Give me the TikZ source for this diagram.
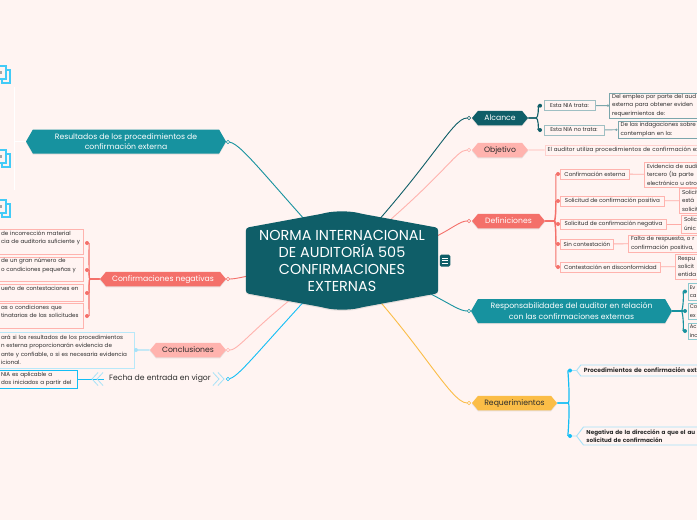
\documentclass[tikz,border=0pt]{standalone}
\usepackage{fontspec}
\setmainfont{Poppins}
\usetikzlibrary{shapes.symbols,shadows,arrows.meta}
\definecolor{paper}{HTML}{FFF4F2}
\definecolor{petrol}{HTML}{0F5E68}
\definecolor{teal}{HTML}{17929F}
\definecolor{coral}{HTML}{F4706A}
\definecolor{blush}{HTML}{FFB3AE}
\definecolor{amber}{HTML}{FBBD47}
\definecolor{sky}{HTML}{14BEF5}
\definecolor{pale}{HTML}{A6E2F8}
\definecolor{ink}{HTML}{2C2C2C}
\pgfdeclarelayer{wires}
\pgfdeclarelayer{hull}
\pgfsetlayers{wires,hull,main}
\tikzset{
  softshadow/.style={drop shadow={opacity=.18,shadow xshift=0pt,shadow yshift=-1.2pt}},
  hexbox/.style={signal, signal to=west and east, signal pointer angle=100, inner sep=0pt,
    font=\fontsize{7.7}{10.2}\selectfont, align=center, softshadow},
  onehex/.style={hexbox, text height=5.8pt, text depth=1.6pt},
  widehex/.style={hexbox, signal pointer angle=120},
  leafbox/.style={draw, line width=.9pt, fill=paper, anchor=west, align=left, inner xsep=2.6pt,
    inner ysep=0pt, text=ink, font=\fontsize{5.6}{8.4}\selectfont},
  clipbox/.style={text width=#1pt},
  tipdot/.style={circle, inner sep=0pt, minimum size=4pt},
  ringdot/.style={circle, draw, line width=.6pt, fill=paper, inner sep=0pt, minimum size=3.4pt},
  chev/.style={pale, line width=.8pt},
}
\begin{document}
\begin{tikzpicture}[x=1pt, y=-1pt]
  \useasboundingbox (0,0) rectangle (697,520);
  \clip (0,0) rectangle (697,520);
  \begin{pgfonlayer}{wires}
    \fill[paper] (0,0) rectangle (697,520);
  \end{pgfonlayer}

  % --- tema centrale ---
  \node (norma) at (342,260.5) [minimum width=192pt, minimum height=65pt, inner sep=0pt, text=white,
      align=center, font=\fontsize{14.4}{17}\selectfont] {NORMA INTERNACIONAL\\DE AUDITORÍA 505\\CONFIRMACIONES\\EXTERNAS};
  \begin{pgfonlayer}{hull}
    \fill[petrol, rounded corners=3pt, softshadow] (norma.north west) -- ++(76,-14)
      .. controls +(12,-3) and +(-12,-3) .. ++(40,0) -- (norma.north east) -- (norma.south east) -- ++(-76,14)
      .. controls +(-12,3) and +(12,3) .. ++(-40,0) -- (norma.south west) -- cycle;
  \end{pgfonlayer}
  \node (menu) at (445,260.5) [fill=petrol, rounded corners=1.5pt, minimum width=10.5pt, minimum height=12pt, inner sep=0pt] {};
  \foreach \y in {-2.4,0,2.4}
    \draw[white, line width=.7pt] ([shift={(-3,\y)}]menu.center) -- ([shift={(3,\y)}]menu.center);

  % --- rami principali ---
  \node (alcance) at (500,118) [onehex, fill=petrol, text=white, minimum width=56pt, minimum height=14.5pt] {Alcance};
  \node (objetivo) at (500,150) [onehex, fill=blush, text=ink, minimum width=56pt, minimum height=14.5pt] {Objetivo};
  \node (definiciones) at (508.5,221) [onehex, fill=coral, text=white, minimum width=73pt, minimum height=14.5pt] {Definiciones};
  \node (responsabilidades) at (571.5,311) [widehex, fill=teal, text=white, minimum width=201pt, minimum height=24pt] {Responsabilidades del auditor en relación\\con las confirmaciones externas};
  \node (requerimientos) at (514.5,403) [onehex, fill=amber, text=ink, minimum width=85pt, minimum height=14.5pt] {Requerimientos};
  \node (resultados) at (126,141.5) [widehex, fill=teal, text=white, minimum width=200pt, minimum height=24pt] {Resultados de los procedimientos de\\confirmación externa};
  \node (negativas) at (163,279) [onehex, fill=coral, text=white, minimum width=126pt, minimum height=14.5pt] {Confirmaciones negativas};
  \node (conclusiones) at (188,350) [onehex, fill=blush, text=ink, minimum width=76pt, minimum height=14.5pt] {Conclusiones};
  \node (fecha) at (160,379) [font=\fontsize{7.7}{10.2}\selectfont, text=ink, inner sep=0pt, minimum width=112pt, minimum height=14pt] {Fecha de entrada en vigor};

  % --- punti di attacco ---
  \foreach \name / \x / \y / \col in {
      rAlc/469/118/petrol, rObj/469/150/blush, rDef/469/221/coral, rRes/469/311/teal, rReq/469/403/amber,
      rRis/228/142/teal, rNeg/228/279/coral, rCon/228/350/blush, rFec/228/379/sky} {
    \node (\name) at (\x,\y) [ringdot, draw=\col] {};
  }
  \begin{pgfonlayer}{wires}
    \draw[petrol, line width=.9pt] (norma.center) .. controls +(90,-95) and +(-17,0) .. (rAlc);
    \draw[blush, line width=.9pt] (norma.center) .. controls +(105,-85) and +(-14,0) .. (rObj);
    \draw[coral, line width=.9pt] (norma.center) .. controls +(95,-10) and +(-16,0) .. (rDef);
    \draw[teal, line width=.9pt] (norma.center) .. controls +(90,25) and +(-16,0) .. (rRes);
    \draw[amber, line width=.9pt] (norma.center) .. controls +(75,75) and +(-19,0) .. (rReq);
    \draw[teal, line width=.9pt] (norma.center) .. controls +(-70,-75) and +(14,2) .. (rRis);
    \draw[coral, line width=.9pt] (norma.center) .. controls +(-60,5) and +(14,0) .. (rNeg);
    \draw[blush, line width=.9pt] (norma.center) .. controls +(-85,60) and +(12,0) .. (rCon);
    \draw[sky, line width=.9pt] (norma.center) .. controls +(-80,85) and +(12,-3) .. (rFec);
  \end{pgfonlayer}

  % --- Alcance ---
  \foreach \name / \y / \boxw / \lbl in {trata/105.7/51/Esta NIA trata:, notrata/130/60/Esta NIA no trata:} {
    \node (\name) at (543.5,\y) [leafbox, draw=petrol!40, minimum width=\boxw pt, minimum height=10pt] {\lbl};
    \node (d\name) at (540,\y) [tipdot, fill=petrol] {};
    \begin{pgfonlayer}{wires}
      \draw[petrol, line width=1.1pt] (alcance.east) -- ++(8,0) .. controls +(2,0) and +(-1,0) .. (d\name);
    \end{pgfonlayer}
  }
  \node (empleo) at (609,105.5) [leafbox, clipbox=95, draw=petrol!55, minimum height=25pt] {Del empleo por parte del aud\\externa para obtener eviden\\requerimientos de:};
  \node (indaga) at (617.5,129.5) [leafbox, clipbox=95, draw=petrol!55, minimum height=17pt] {De las indagaciones sobre\\contemplan en la:};
  \begin{pgfonlayer}{wires}
    \draw[petrol!55, line width=.9pt, -{Circle[length=2.2pt]}] (trata) -- (empleo);
    \draw[petrol!55, line width=.9pt, -{Circle[length=2.2pt]}] (notrata) -- (indaga);
  \end{pgfonlayer}

  % --- Objetivo ---
  \node (utiliza) at (544.5,150) [leafbox, clipbox=170, draw=blush!60, minimum height=10pt,
      font=\fontsize{5.6}{8.4}\selectfont\addfontfeature{LetterSpace=2.2}] {El auditor utiliza procedimientos de confirmación ex};
  \begin{pgfonlayer}{wires}
    \draw[blush, line width=.9pt] (objetivo) -- (utiliza);
  \end{pgfonlayer}

  % --- Definiciones ---
  \foreach \name / \y / \boxw / \lbl in {
      externa/174/69/Confirmación externa,
      positiva/201/104/Solicitud de confirmación positiva,
      negativa/224/106/Solicitud de confirmación negativa,
      sincont/244/53/Sin contestación,
      discon/267/100/Contestación en disconformidad} {
    \node (\name) at (560,\y) [leafbox, draw=blush, minimum width=\boxw pt, minimum height=10pt] {\lbl};
    \node (d\name) at (558,\y) [tipdot, fill=coral] {};
    \begin{pgfonlayer}{wires}
      \draw[coral, line width=1.1pt] (definiciones.east) -- ++(9,0) .. controls +(2,0) and +(-2,0) .. (d\name);
    \end{pgfonlayer}
  }
  \foreach \name / \src / \x / \y / \boxh / \lbl in {
      evidencia/externa/644/174.5/25/{Evidencia de audi\\tercero (la parte \\electrónico u otro},
      solpos/positiva/679/200.5/25/{Solicit\\está \\solicit},
      solneg/negativa/681/224/18/{Solic\\únic},
      falta/sincont/628/243.5/17/{Falta de respuesta, o r\\confirmación positiva,},
      respu/discon/675/266.5/25/{Respu\\solicit\\entida}} {
    \node (\name) at (\x,\y) [leafbox, clipbox=90, draw=blush, minimum height=\boxh pt] {\lbl};
    \begin{pgfonlayer}{wires}
      \draw[blush!90!coral, line width=.9pt] (\src) -- (\name);
    \end{pgfonlayer}
  }

  % --- Responsabilidades ---
  \foreach \name / \y / \boxh / \fst / \snd in {ev/291.5/17/Ev/ca, co/311/16/Co/ex, ac/331/16/Ac/inc} {
    \node (\name) at (687.5,\y) [leafbox, clipbox=15, draw=teal!50, minimum height=\boxh pt, inner xsep=1.8pt,
        font=\fontsize{5.3}{8.4}\selectfont] {\fst\\\snd};
    \node (d\name) at (685,\y) [tipdot, fill=teal] {};
    \begin{pgfonlayer}{wires}
      \draw[teal, line width=1.1pt] (responsabilidades.east) -- ++(9,0) .. controls +(2,0) and +(-1,0) .. (d\name);
    \end{pgfonlayer}
  }

  % --- Requerimientos ---
  \foreach \name / \y / \boxh / \size / \lbl in {
      proced/370.5/11/5.95/Procedimientos de confirmación ext,
      nega/436/18/5.7/{Negativa de la dirección a que el au\\solicitud de confirmación}} {
    \node (\name) at (576,\y) [signal, signal to=west, signal pointer angle=105, draw=pale, line width=.9pt, fill=paper,
      anchor=west, align=left, inner sep=0pt, inner xsep=3pt, text=ink, font=\fontsize{\size}{8.4}\selectfont\bfseries,
      text width=130pt, minimum height=\boxh pt] {\lbl};
    \node (d\name) at (570,\y) [tipdot, fill=sky] {};
    \begin{pgfonlayer}{wires}
      \draw[sky, line width=1.2pt] (requerimientos.east) -- ++(11,0) .. controls +(2,0) and +(-2,0) .. (d\name);
      \draw[pale, line width=.9pt] (d\name) -- (\name);
    \end{pgfonlayer}
  }

  % --- Confirmaciones negativas ---
  \foreach \name / \y / \boxh / \tip / \lbl in {
      incorr/241.5/25/243/{de incorrección material\\cia de auditoría suficiente y\\~},
      gran/269/24/270/{de un gran número de\\o condiciones pequeñas y\\~},
      sueno/292.5/17/293/{ueño de contestaciones en\\~},
      tinat/315.5/25/316/{as o condiciones que\\tinatarias de las solicitudes\\~}} {
    \node (\name) at (-2,\y) [leafbox, clipbox=79.8, draw=blush, minimum height=\boxh pt] {\lbl};
    \node (d\name) at (87,\tip) [tipdot, fill=coral] {};
    \begin{pgfonlayer}{wires}
      \draw[coral, line width=1.1pt] (negativas.west) -- ++(-10,0) .. controls +(-1,0) and +(2,0) .. (d\name);
    \end{pgfonlayer}
  }

  % --- Conclusiones ---
  \node (concl) at (-2,350) [leafbox, clipbox=130.8, draw=pale!80, minimum height=36pt] {ará si los resultados de los procedimientos\\n externa proporcionarán evidencia de\\ante y confiable, o si es necesaria evidencia\\icional.};
  \node (dconcl) at (136,350) [tipdot, fill=pale] {};
  \begin{pgfonlayer}{wires}
    \draw[pale, line width=1.1pt] (conclusiones) -- (dconcl);
  \end{pgfonlayer}

  % --- Fecha ---
  \node (vigor) at (-2,379) [leafbox, clipbox=73.8, draw=sky, minimum height=18pt] {NIA es aplicable a\\dos iniciados a partir del};
  \foreach \x in {92,97} {
    \draw[chev] (\x+6,372.5) -- (\x,379) -- (\x+6,385.5);
  }
  \foreach \x in {226,221} {
    \draw[chev] (\x-8,372.5) -- (\x-2,379) -- (\x-8,385.5);
  }
  \begin{pgfonlayer}{wires}
    \draw[sky, line width=.9pt] (vigor) -- (fecha.west);
  \end{pgfonlayer}

  % --- Resultados ---
  \foreach \y in {66,150,200} {
    \draw[sky!80, line width=1.5pt] (2,\y+4) rectangle (10,\y+17);
    \draw[sky!80, line width=1.5pt, fill=paper] (-4,\y) rectangle (6,\y+13);
    \node at (0,\y+6.5) [fill=black!35, minimum width=3pt, minimum height=3pt, inner sep=0pt] {};
  }
  \node (spine) at (14.5,141.5) [inner sep=0pt, minimum size=0pt] {};
  \begin{pgfonlayer}{wires}
    \draw[white, line width=.9pt] (resultados.west) -- (spine.center);
    \draw[white, line width=.9pt] (14.5,87) -- (14.5,190);
  \end{pgfonlayer}
\end{tikzpicture}
\end{document}
